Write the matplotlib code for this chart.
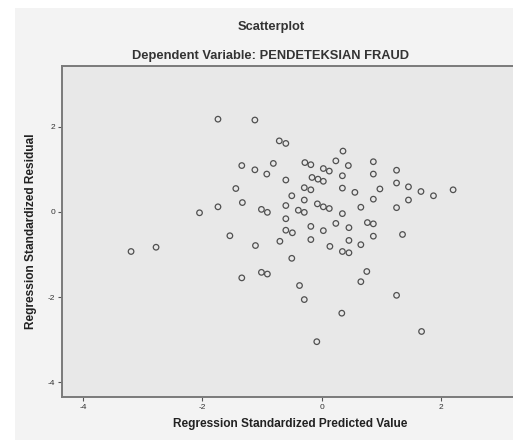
import matplotlib
matplotlib.use("Agg")
import matplotlib.pyplot as plt
from matplotlib.patches import Rectangle

plt.rcParams['axes.unicode_minus'] = False
plt.rcParams['font.family'] = ['Liberation Sans', 'DejaVu Sans']

predicted = [-1.74, -1.12, -0.71, -0.60, -1.34, -1.12, -0.92, -0.81, -0.60, -1.44,
             -1.33, -1.74, -2.05, -1.01, -0.91, -0.60, -0.60, -0.50, -0.60, -3.20,
             -2.78, -1.54, -1.11, -0.70, -1.34, -1.01, -0.91, -0.50, 0.36, -0.28,
             -0.18, 0.24, 0.45, 0.87, 0.03, 0.13, 0.87, 1.26, 1.26, 1.46,
             1.67, 1.88, 2.21, 1.46, 1.26, -0.16, -0.06, 0.03, 0.35, -0.29,
             -0.18, 0.35, 0.56, 0.98, -0.29, 0.87, -0.39, -0.29, -0.07, 0.03,
             0.13, 0.35, 0.66, 0.24, -0.18, 0.03, 0.46, 0.77, 0.87, -0.49,
             0.87, 1.36, -0.18, 0.14, 0.46, 0.66, 0.35, 0.46, 0.76, 0.66,
             -0.37, -0.29, 1.26, 0.34, 1.68, -0.08]
residual = [2.18, 2.16, 1.67, 1.61, 1.09, 0.99, 0.89, 1.14, 0.75, 0.55,
            0.22, 0.12, -0.02, 0.06, -0.01, 0.15, -0.16, 0.38, -0.43, -0.93,
            -0.83, -0.56, -0.79, -0.69, -1.55, -1.42, -1.46, -1.09, 1.43, 1.16,
            1.11, 1.20, 1.09, 1.18, 1.02, 0.96, 0.89, 0.98, 0.68, 0.59,
            0.48, 0.38, 0.52, 0.28, 0.10, 0.81, 0.77, 0.72, 0.85, 0.57,
            0.52, 0.56, 0.46, 0.54, 0.28, 0.30, 0.04, -0.01, 0.19, 0.12,
            0.08, -0.04, 0.11, -0.27, -0.34, -0.44, -0.37, -0.25, -0.28, -0.49,
            -0.57, -0.53, -0.65, -0.81, -0.67, -0.77, -0.93, -0.96, -1.40, -1.64,
            -1.73, -2.06, -1.96, -2.38, -2.81, -3.05]

x_ticks = [-4, -2, 0, 2]
y_ticks = [-4, -2, 0, 2]

W, H = 513, 440
fig = plt.figure(figsize=(W / 100, H / 100), dpi=100, facecolor='white')
fig.patches.append(Rectangle((15 / W, 0), 1 - 15 / W, 1 - 8 / H,
                             transform=fig.transFigure, facecolor='#f3f3f3',
                             edgecolor='none', zorder=-10))

left, right_px, top, bottom = 62, 518, 66, 397
ax = fig.add_axes([left / W, (H - bottom) / H, (right_px - left) / W, (bottom - top) / H])
ax.set_facecolor('#e8e8e8')
ax.scatter(predicted, residual, s=16, facecolors='none', edgecolors='#505050', linewidths=0.9)

ax.set_xlim(-4.36, 3.30)
ax.set_ylim(-4.35, 3.43)
ax.set_xticks(x_ticks)
ax.set_yticks(y_ticks)
ax.tick_params(axis='both', length=3, width=0.8, color='#555555', labelsize=6,
               labelcolor='#333333', pad=2)
for s in ['left', 'bottom', 'top']:
    ax.spines[s].set_color('#7a7a7a')
    ax.spines[s].set_linewidth(1.4)
ax.spines['right'].set_visible(False)

ax.set_xlabel('Regression Standardized Predicted Value', fontsize=8.6,
              fontweight='bold', color='#222222', labelpad=5)
ax.set_ylabel('Regression Standardized Residual', fontsize=8.6,
              fontweight='bold', color='#222222', labelpad=8)

fig.text(271 / W, 1 - 27 / H, 'Scatterplot', ha='center', va='center',
         fontsize=9.3, fontweight='bold', color='#333333')
fig.text(270 / W, 1 - 56 / H, 'Dependent Variable: PENDETEKSIAN FRAUD', ha='center',
         va='center', fontsize=9.3, fontweight='bold', color='#333333')

fig.savefig('out.png', dpi=100, facecolor=fig.get_facecolor())
